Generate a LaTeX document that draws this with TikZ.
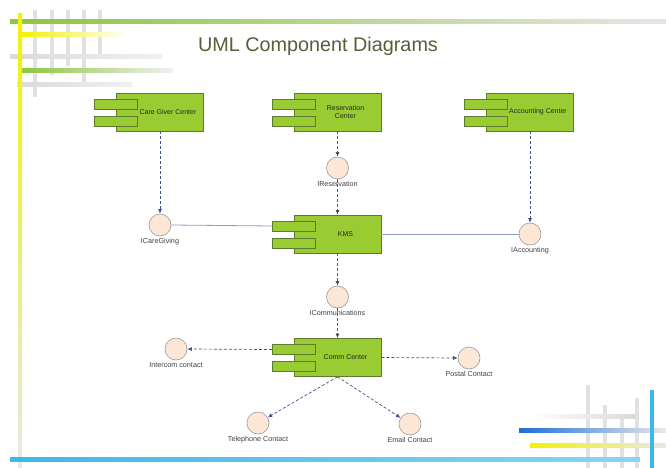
\documentclass[tikz,border=0pt]{standalone}
\usepackage{fontspec}
\setmainfont{Liberation Sans}
\usetikzlibrary{arrows.meta}

\definecolor{compfill}{HTML}{99CC33}
\definecolor{compdraw}{HTML}{5E7A2E}
\definecolor{ifill}{HTML}{FCE6D6}
\definecolor{idraw}{HTML}{9A9A9A}
\definecolor{depblue}{HTML}{3F5393}
\definecolor{depgray}{HTML}{5A5A5A}
\definecolor{linkblue}{HTML}{8C9CC6}
\definecolor{titlecol}{HTML}{5C5C3A}
\definecolor{decgreen}{HTML}{8DC63F}
\definecolor{decyellow}{HTML}{F2F200}
\definecolor{decgray}{HTML}{DADADA}
\definecolor{decblue}{HTML}{1E6FD9}
\definecolor{deccyan}{HTML}{3DB8E8}

\tikzset{
  compbox/.style={draw=compdraw, fill=compfill, line width=0.6pt,
    minimum width=87pt, minimum height=38pt, inner sep=0pt},
  comptab/.style={draw=compdraw, fill=compfill, line width=0.6pt,
    minimum width=43pt, minimum height=10pt, inner sep=0pt},
  comptext/.style={font=\fontsize{7}{8}\selectfont, text=black!85,
    align=center},
  iface/.style={circle, draw=idraw, fill=ifill, line width=0.6pt,
    minimum size=22pt, inner sep=0pt},
  ilabel/.style={font=\fontsize{7.2}{8}\selectfont, text=black!75,
    anchor=north, inner sep=1pt},
  depb/.style={draw=depblue, line width=0.7pt, dash pattern=on 3pt off 2pt,
    -{Latex[length=4.5pt,width=4pt]}},
  depg/.style={draw=depgray, line width=0.7pt, dash pattern=on 3pt off 2pt,
    -{Latex[length=4.5pt,width=4pt,fill=black]}},
  link/.style={draw=linkblue, line width=0.8pt},
}

% component: name, x, y, text
\newcommand\umlcomp[4]{%
  \node[compbox] (#1) at (#2,#3) {};
  \node[comptab] (#1-t1) at ([yshift=8pt]#1.west) {};
  \node[comptab] (#1-t2) at ([yshift=-9pt]#1.west) {};
  \node[comptext] (#1-lbl) at ([xshift=8pt]#1.center) {#4};
}

\begin{document}
\begin{tikzpicture}[x=1pt, y=-1pt]
  \useasboundingbox (0,0) rectangle (666,468);
  \fill[white] (0,0) rectangle (666,468);

  % corner decoration, top left
  \foreach \x/\ya/\yb in {35/10/97, 52/10/75, 68/10/66, 84/10/83, 100/10/55}
    \fill[decgray!80] (\x-2,\ya) rectangle (\x+2,\yb);
  \fill[left color=decgreen, right color=decgray!70] (10,20) rectangle (666,24);
  \fill[left color=decyellow, right color=white] (20,33) rectangle (128,37);
  \fill[left color=decgray, right color=decgray!40] (10,55) rectangle (162,59);
  \fill[left color=decgreen, right color=decgray!40] (22,69) rectangle (173,73);
  \fill[left color=decgray, right color=decgray!40] (17,83) rectangle (132,87);
  \fill[top color=decyellow, bottom color=decgray!60] (18,14) rectangle (22,468);

  % corner decoration, bottom right
  \foreach \x/\ya in {588/385, 605/405, 622/415, 637/398}
    \fill[decgray!80] (\x-2,\ya) rectangle (\x+2,468);
  \fill[left color=white, right color=decgray] (530,414) rectangle (635,418);
  \fill[left color=decblue, right color=decgray!60] (519,428) rectangle (666,432);
  \fill[left color=decyellow, right color=decgray!60] (530,443) rectangle (666,447);
  \fill[left color=deccyan, right color=deccyan!60] (10,457) rectangle (640,461);
  \fill[deccyan] (650,390) rectangle (654,468);

  % title
  \node[font=\fontsize{19.8}{23}\selectfont, text=titlecol] (title) at (318,46)
    {UML Component Diagrams};

  % components
  \umlcomp{cg}{160}{112}{Care Giver Center}
  \umlcomp{res}{337.5}{112}{Reservation\\Center}
  \umlcomp{acc}{530}{112}{Accounting Center}
  \umlcomp{kms}{337.5}{234}{KMS}
  \umlcomp{comm}{337.5}{357.5}{Comm Center}

  % interfaces
  \node[iface] (ires) at (337.5,168) {};
  \node[ilabel] (ires-l) at ([yshift=-1pt]ires.south) {IReservation};
  \node[iface] (icg) at (160,225) {};
  \node[ilabel] (icg-l) at ([yshift=-1pt]icg.south) {ICareGiving};
  \node[iface] (iacc) at (530,234) {};
  \node[ilabel] (iacc-l) at ([yshift=-1pt]iacc.south) {IAccounting};
  \node[iface] (icom) at (337.5,297) {};
  \node[ilabel] (icom-l) at ([yshift=-1pt]icom.south) {ICommunications};
  \node[iface] (ic) at (176,349) {};
  \node[ilabel] (ic-l) at ([yshift=-1pt]ic.south) {Intercom contact};
  \node[iface] (pc) at (469,358) {};
  \node[ilabel] (pc-l) at ([yshift=-1pt]pc.south) {Postal Contact};
  \node[iface] (tc) at (258,423) {};
  \node[ilabel] (tc-l) at ([yshift=-1pt]tc.south) {Telephone Contact};
  \node[iface] (ec) at (410,424) {};
  \node[ilabel] (ec-l) at ([yshift=-1pt]ec.south) {Email Contact};

  % connectors
  \draw[depb] (cg.south) -- (icg.north);
  \draw[depg] (res.south) -- (ires.north);
  \draw[depg] (ires.south) -- (kms.north);
  \draw[depb] (acc.south) -- (iacc.north);
  \draw[link] (icg.east) -- (kms-t1.west);
  \draw[link] (kms.east) -- (iacc.west);
  \draw[depg] (kms.south) -- (icom.north);
  \draw[depg] (icom.south) -- (comm.north);
  \draw[depb] (comm-t1.west) -- (ic.east);
  \draw[depb] (comm.east) -- (pc.west);
  \draw[depb] (comm.south) -- (tc);
  \draw[depb] (comm.south) -- (ec);
\end{tikzpicture}
\end{document}
